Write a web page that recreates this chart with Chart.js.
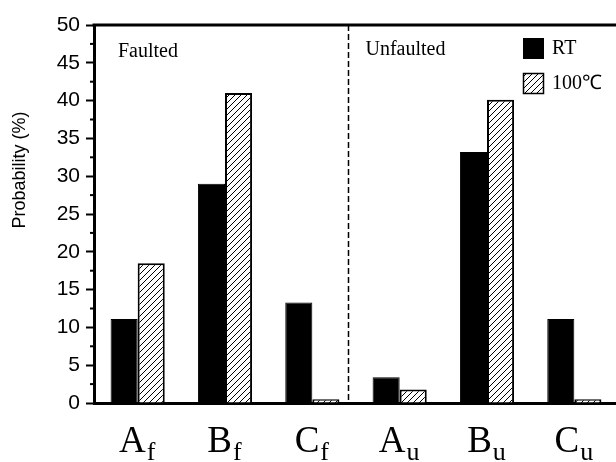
<!DOCTYPE html>
<html>
<head>
<meta charset="utf-8">
<script src="https://cdn.jsdelivr.net/npm/chart.js@4/dist/chart.umd.min.js"></script>
<style>
    html, body { margin: 0; padding: 0; background: #fff; overflow: hidden; }
    #wrap { width: 626px; height: 462px; }
</style>
</head>
<body>
<div id="wrap"><canvas id="chartProb" width="626" height="462"></canvas></div>
<script>
// categories: main letter + subscript (f = faulted, u = unfaulted)
const catLetters = ['A', 'B', 'C', 'A', 'B', 'C'];
const catSubs = ['f', 'f', 'f', 'u', 'u', 'u'];
const seriesNames = ['RT', '100\u2103'];
const valuesRT = [11.1, 29.0, 13.3, 3.4, 33.2, 11.1];
const values100 = [18.5, 41.0, 0.5, 1.8, 40.1, 0.5];
const yTicks = [0, 5, 10, 15, 20, 25, 30, 35, 40, 45, 50];
const groupNames = ['Faulted', 'Unfaulted'];

const dividerAt = 2.41; // between C_f and A_u, in category units

const canvas = document.getElementById('chartProb');
const ctxMain = canvas.getContext('2d');

// "/" hatch used for the 100 C bars
function makeHatch() {
    const c = document.createElement('canvas');
    c.width = 6; c.height = 6;
    const g = c.getContext('2d');
    g.fillStyle = '#fff';
    g.fillRect(0, 0, 6, 6);
    g.strokeStyle = '#000';
    g.lineWidth = 1;
    g.beginPath();
    g.moveTo(0, 6); g.lineTo(6, 0);
    g.moveTo(-1, 1); g.lineTo(1, -1);
    g.moveTo(5, 7); g.lineTo(7, 5);
    g.stroke();
    return ctxMain.createPattern(c, 'repeat');
}
const hatch = makeHatch();

const serif = '"Liberation Serif", "Times New Roman", serif';
const sans = '"Liberation Sans", Arial, sans-serif';

const decorPlugin = {
    id: 'decor',
    afterDatasetsDraw(chart) {
        const { ctx, chartArea: a, scales: { x, y } } = chart;
        ctx.save();

        // top frame line
        ctx.strokeStyle = '#000';
        ctx.lineWidth = 3;
        ctx.beginPath();
        ctx.moveTo(a.left - 1.5, a.top);
        ctx.lineTo(a.right, a.top);
        ctx.stroke();

        // minor ticks halfway between the labelled ones
        ctx.lineWidth = 2;
        for (let i = 0; i < yTicks.length - 1; i++) {
            const py = y.getPixelForValue((yTicks[i] + yTicks[i + 1]) / 2);
            ctx.beginPath();
            ctx.moveTo(a.left - 4, py);
            ctx.lineTo(a.left, py);
            ctx.stroke();
        }

        // dashed divider faulted / unfaulted
        const dx = Math.round(x.getPixelForValue(dividerAt)) + 0.5;
        ctx.setLineDash([6, 3]);
        ctx.lineWidth = 1.5;
        ctx.beginPath();
        ctx.moveTo(dx, a.top);
        ctx.lineTo(dx, a.bottom);
        ctx.stroke();
        ctx.setLineDash([]);

        // group captions
        ctx.fillStyle = '#000';
        ctx.font = '20px ' + serif;
        ctx.textAlign = 'left';
        ctx.textBaseline = 'alphabetic';
        ctx.fillText(groupNames[0], a.left + 24, a.top + 32);
        ctx.fillText(groupNames[1], dx + 17, a.top + 30);

        // legend
        const lx = 523, ly = [38, 73];
        chart.data.datasets.forEach((ds, i) => {
            ctx.fillStyle = ds.backgroundColor;
            ctx.fillRect(lx, ly[i], 21, 21);
            ctx.strokeStyle = '#000';
            ctx.lineWidth = i === 0 ? 1 : 1.5;
            ctx.strokeRect(lx + 0.5, ly[i] + 0.5, 20, 20);
            ctx.fillStyle = '#000';
            ctx.font = '20px ' + serif;
            ctx.fillText(ds.label, lx + 29, ly[i] + 16);
        });

        // category labels with subscripts
        chart.data.labels.forEach((lab, i) => {
            const cx = x.getPixelForValue(i) - 1;
            ctx.font = '37px ' + serif;
            const w1 = ctx.measureText(lab).width;
            ctx.font = '26px ' + serif;
            const w2 = ctx.measureText(catSubs[i]).width;
            const x0 = cx - (w1 + w2) / 2;
            ctx.font = '37px ' + serif;
            ctx.fillText(lab, x0, 452);
            ctx.font = '26px ' + serif;
            ctx.fillText(catSubs[i], x0 + w1 + 1, 460);
        });

        // y axis title
        ctx.translate(25, 170);
        ctx.rotate(-Math.PI / 2);
        ctx.textAlign = 'center';
        ctx.font = '18px ' + sans;
        ctx.fillText('Probability (%)', 0, 0);

        ctx.restore();
    }
};

new Chart(canvas, {
    type: 'bar',
    data: {
        labels: catLetters,
        datasets: [{
            label: seriesNames[0],
            data: valuesRT,
            backgroundColor: '#000',
            borderColor: '#000',
            borderWidth: 1
        }, {
            label: seriesNames[1],
            data: values100,
            backgroundColor: hatch,
            borderColor: '#000',
            borderWidth: 2
        }]
    },
    options: {
        responsive: false,
        animation: false,
        devicePixelRatio: 1,
        categoryPercentage: 0.62,
        barPercentage: 1,
        layout: { padding: { left: 0, top: 25, right: 8, bottom: 0 } },
        plugins: {
            legend: { display: false },
            tooltip: { enabled: false }
        },
        scales: {
            x: {
                grid: { display: false },
                border: { display: true, color: '#000', width: 3 },
                ticks: { display: false },
                afterFit: s => { s.height = 59; }
            },
            y: {
                min: 0,
                max: 50,
                afterBuildTicks: s => { s.ticks = yTicks.map(v => ({ value: v })); },
                grid: {
                    drawOnChartArea: false,
                    drawTicks: true,
                    tickLength: 8,
                    tickWidth: 2,
                    tickColor: '#000'
                },
                border: { display: true, color: '#000', width: 3 },
                ticks: {
                    color: '#000',
                    padding: 6,
                    font: { family: sans, size: 21 }
                },
                afterFit: s => { s.width = 94; }
            }
        }
    },
    plugins: [decorPlugin]
});
</script>
</body>
</html>
